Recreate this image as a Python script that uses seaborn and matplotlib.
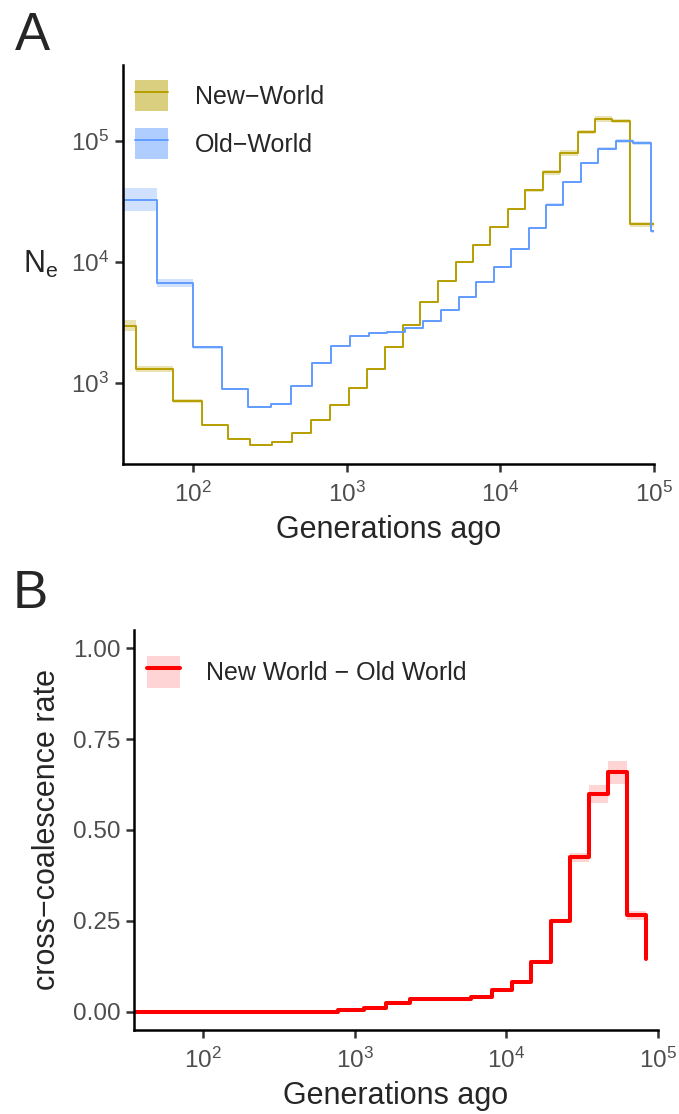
import numpy as np
import pandas as pd
import matplotlib
matplotlib.use("Agg")
import matplotlib.pyplot as plt
import seaborn as sns
from matplotlib.patches import Patch
from matplotlib.lines import Line2D
from matplotlib.ticker import LogLocator, LogFormatterMathtext, NullLocator

# ---------------- data ----------------
# Panel A: effective population size (left edge of each time segment, generations ago)
new_world_time = [35, 42.6, 73.8, 113.9, 168, 235.6, 324.5, 439.5, 584, 779, 1035, 1349, 1765,
                  2310, 3024, 3940, 5125, 6648, 8612, 11220, 14530, 18830, 24530, 31950,
                  41390, 53610, 69850]
new_world_ne = [2970, 1290, 706, 447, 342, 305, 322, 386, 492, 655, 904, 1297, 1958,
                3013, 4690, 6995, 10040, 13800, 19190, 27230, 38800, 54700, 79100, 118000,
                151000, 146000, 20400]
# half-width of confidence band (log10 units)
new_world_ci = [0.044, 0.025, 0.017, 0.011, 0.008, 0.008, 0.008, 0.008, 0.008, 0.008, 0.008,
                0.008, 0.008, 0.008, 0.008, 0.008, 0.008, 0.008, 0.008, 0.01, 0.012, 0.02,
                0.023, 0.02, 0.023, 0.018, 0.02]

old_world_time = [35, 58.1, 100.4, 154.3, 226.6, 321, 437.4, 592.6, 795.6, 1050.5, 1396, 1838,
                  2391, 3148, 4097, 5360, 6985, 9101, 11790, 15270, 19810, 25770, 33570,
                  43480, 56640, 73380, 95200]
old_world_ne = [32500, 6670, 1960, 887, 625, 667, 945, 1450, 2027, 2433, 2592, 2625,
                2830, 3210, 4010, 5110, 6750, 9040, 12700, 19000, 29600, 45600, 65500,
                86000, 100000, 95700, 17800]
old_world_ci = [0.094, 0.03, 0.012, 0.008, 0.008, 0.008, 0.008, 0.008, 0.008, 0.008, 0.008,
                0.008, 0.008, 0.008, 0.008, 0.008, 0.008, 0.008, 0.008, 0.008, 0.01, 0.01,
                0.012, 0.014, 0.017, 0.015, 0.01]
time_end = 1e5

# Panel B: relative cross-coalescence rate
ccr_time = [35, 119.4, 492, 776, 1147, 1618, 2305, 3203, 4340, 5880, 8037, 10890, 14620,
            19590, 26150, 34870, 46540, 62370, 82830]
ccr_rate = [0.0, 0.0, 0.0, 0.004, 0.011, 0.025, 0.034, 0.034, 0.034, 0.041, 0.060, 0.082,
            0.136, 0.250, 0.425, 0.599, 0.659, 0.265, 0.144]
ccr_ci = [0.002, 0.002, 0.002, 0.002, 0.002, 0.002, 0.002, 0.002, 0.002, 0.002, 0.003, 0.003,
          0.004, 0.005, 0.0125, 0.025, 0.032, 0.0135, 0.0]

series_labels = ["New\u2212World", "Old\u2212World"]
ccr_label = "New World \u2212 Old World"

# ---------------- style ----------------
sns.set_style("ticks")
plt.rcParams["font.family"] = ["Liberation Sans", "DejaVu Sans"]
plt.rcParams["mathtext.fontset"] = "custom"
plt.rcParams["mathtext.rm"] = "Liberation Sans"
plt.rcParams["mathtext.it"] = "Liberation Sans:italic"
plt.rcParams["mathtext.bf"] = "Liberation Sans:bold"

GOLD = "#B79F00"
BLUE = "#619CFF"
RED = "#FF0000"
TICKCOL = "#4D4D4D"

fig = plt.figure(figsize=(6.79, 11.14), dpi=100)
axA = fig.add_axes([0.1811, 0.5835, 0.782, 0.3582])
axB = fig.add_axes([0.1973, 0.0754, 0.7717, 0.3591])


def ext(times, vals, end):
    return list(times) + [end], list(vals) + [vals[-1]]


# ---------------- panel A ----------------
rows = []
for lab, t, v in [(series_labels[0], new_world_time, new_world_ne),
                  (series_labels[1], old_world_time, old_world_ne)]:
    te, ve = ext(t, v, time_end)
    rows.append(pd.DataFrame({"time": te, "ne": ve, "pop": lab}))
dfA = pd.concat(rows, ignore_index=True)

for t, v, ci, col in [(new_world_time, new_world_ne, new_world_ci, GOLD),
                      (old_world_time, old_world_ne, old_world_ci, BLUE)]:
    te, ve = ext(t, v, time_end)
    _, ce = ext(t, ci, time_end)
    ve = np.array(ve, float)
    ce = np.array(ce, float)
    axA.fill_between(te, ve / 10 ** ce, ve * 10 ** ce, step="post", color=col,
                     alpha=0.3, linewidth=0)

sns.lineplot(data=dfA, x="time", y="ne", hue="pop", palette=[GOLD, BLUE],
             drawstyle="steps-post", linewidth=1.4, legend=False, ax=axA,
             estimator=None, sort=False)

axA.set_xscale("log")
axA.set_yscale("log")
axA.set_xlim(35, 1e5)
axA.set_ylim(213, 4.23e5)
axA.set_xlabel("Generations ago", fontsize=22, labelpad=6)
axA.set_ylabel(r"N$_\mathregular{e}$", fontsize=22, rotation=0, ha="right", va="center")
axA.yaxis.set_label_coords(-0.122, 0.5)

handlesA = [(Patch(facecolor=GOLD, alpha=0.5, linewidth=0), Line2D([], [], color=GOLD, lw=1.4)),
            (Patch(facecolor=BLUE, alpha=0.5, linewidth=0), Line2D([], [], color=BLUE, lw=1.4))]
axA.legend(handlesA, series_labels, loc="upper left", bbox_to_anchor=(0.0226, 0.962),
           frameon=False, fontsize=18, handlelength=1.32, handleheight=1.53,
           labelspacing=0.67, handletextpad=1.07, borderpad=0, borderaxespad=0)

# ---------------- panel B ----------------
dfB = pd.DataFrame({"time": ccr_time, "rate": ccr_rate})
cr = np.array(ccr_rate, float)
cc = np.array(ccr_ci, float)
axB.fill_between(ccr_time, cr - cc, cr + cc, step="post", color=RED, alpha=0.17, linewidth=0)
sns.lineplot(data=dfB, x="time", y="rate", color=RED, drawstyle="steps-post",
             linewidth=2.9, ax=axB, estimator=None, sort=False)
axB.set_xscale("log")
axB.set_xlim(35, 1e5)
axB.set_ylim(-0.05, 1.05)
axB.set_yticks([0.0, 0.25, 0.5, 0.75, 1.0])
axB.set_yticklabels(["0.00", "0.25", "0.50", "0.75", "1.00"])
axB.set_xlabel("Generations ago", fontsize=22, labelpad=5.5)
axB.set_ylabel("cross\u2212coalescence rate", fontsize=22, labelpad=8)

handlesB = [(Patch(facecolor=RED, alpha=0.17, linewidth=0), Line2D([], [], color=RED, lw=2.9))]
axB.legend(handlesB, [ccr_label], loc="upper left", bbox_to_anchor=(0.0242, 0.934),
           frameon=False, fontsize=18, handlelength=1.32, handleheight=1.56,
           handletextpad=1.07, borderpad=0, borderaxespad=0)

# ---------------- axes styling ----------------
for ax in (axA, axB):
    sns.despine(ax=ax)
    for s in ("left", "bottom"):
        ax.spines[s].set_linewidth(1.8)
        ax.spines[s].set_color("black")
    ax.xaxis.set_major_locator(LogLocator(base=10, numticks=10))
    ax.xaxis.set_major_formatter(LogFormatterMathtext())
    ax.xaxis.set_minor_locator(NullLocator())
    ax.tick_params(axis="both", which="major", length=5.8, width=1.8, color="#333333",
                   labelsize=17.5, labelcolor=TICKCOL, pad=4)
    ax.tick_params(axis="x", pad=7)
    ax.set_facecolor("white")

axA.yaxis.set_major_locator(LogLocator(base=10, numticks=10))
axA.yaxis.set_major_formatter(LogFormatterMathtext())
axA.yaxis.set_minor_locator(NullLocator())
axA.set_xlim(35, 1e5)
axA.set_ylim(213, 4.23e5)

fig.text(0.022, 0.955, "A", fontsize=38, ha="left", va="baseline")
fig.text(0.019, 0.454, "B", fontsize=38, ha="left", va="baseline")

fig.savefig("out.png", dpi=100, facecolor="white")
